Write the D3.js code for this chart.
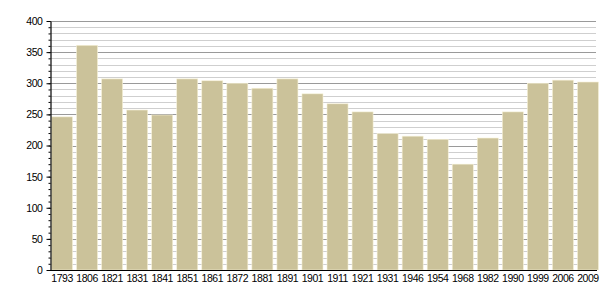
<!DOCTYPE html>
<html>
<head>
<meta charset="utf-8">
<script src="https://cdn.jsdelivr.net/npm/d3@7"></script>
<style>
  body { margin: 0; background: #fff; }
  text { font-family: "Liberation Sans", Arial, sans-serif; }
</style>
</head>
<body>
<div id="chart"></div>
<script>
// data
var years = ["1793","1806","1821","1831","1841","1851","1861","1872","1881","1891","1901",
             "1911","1921","1931","1946","1954","1968","1982","1990","1999","2006","2009"];
var population = [246, 361, 307, 257, 249, 307, 304, 300, 292, 307, 283,
                  267, 254, 219, 215, 210, 170, 212, 254, 300, 305, 302];
var yTicks = [0, 50, 100, 150, 200, 250, 300, 350, 400];

var width = 605, height = 300;
var margin = { top: 21, right: 8, bottom: 30, left: 50 };

var svg = d3.select("#chart").append("svg")
  .attr("width", width)
  .attr("height", height);

var x = d3.scaleBand()
  .domain(years)
  .range([margin.left + 1, width - margin.right + 2])
  .paddingInner(0.16)
  .paddingOuter(0.02);

var y = d3.scaleLinear()
  .domain([0, 400])
  .range([height - margin.bottom, margin.top]);

// gridlines, minor every 10, darker every 50
var minor = d3.range(10, 401, 10);
svg.append("g")
  .selectAll("line")
  .data(minor)
  .enter().append("line")
  .attr("x1", margin.left)
  .attr("x2", width - 9)
  .attr("y1", d => Math.round(y(d)) + 0.5)
  .attr("y2", d => Math.round(y(d)) + 0.5)
  .attr("stroke", d => d % 50 === 0 ? "#9a9a9a" : "#cfcfcf")
  .attr("stroke-width", 1);

// bars
svg.append("g")
  .selectAll("rect")
  .data(years)
  .enter().append("rect")
  .attr("x", (d, i) => x(d))
  .attr("width", x.bandwidth())
  .attr("y", (d, i) => y(population[i]))
  .attr("height", (d, i) => y(0) - y(population[i]))
  .attr("fill", "#cbc29a")
  .attr("stroke", "#f7f2d8")
  .attr("stroke-width", 0.6);

// y axis with minor ticks
svg.append("g")
  .attr("transform", "translate(" + (margin.left + 0.5) + ",0)")
  .call(d3.axisLeft(y).tickValues(d3.range(0, 401, 10)).tickSize(2).tickFormat(""))
  .call(g => g.select(".domain").remove())
  .selectAll("line").attr("stroke", "#000");

var yAxis = svg.append("g")
  .attr("transform", "translate(" + (margin.left + 0.5) + ",0)")
  .call(d3.axisLeft(y).tickValues(yTicks).tickSize(4).tickPadding(4).tickSizeOuter(0));
yAxis.selectAll("text")
  .style("font-size", "10.5px")
  .style("letter-spacing", "-0.45px")
  .attr("fill", "#000");
yAxis.select(".domain").attr("stroke", "#000").attr("stroke-width", 1.2);

// x axis
var xAxis = svg.append("g")
  .attr("transform", "translate(0," + (y(0) + 0.5) + ")")
  .call(d3.axisBottom(x).tickSize(0).tickPadding(4));
xAxis.select(".domain")
  .attr("d", "M" + margin.left + ",0H" + (width - 8))
  .attr("stroke", "#000").attr("stroke-width", 1.2);
xAxis.selectAll("text")
  .style("font-size", "10.5px")
  .style("letter-spacing", "-0.45px")
  .attr("fill", "#000");
</script>
</body>
</html>
